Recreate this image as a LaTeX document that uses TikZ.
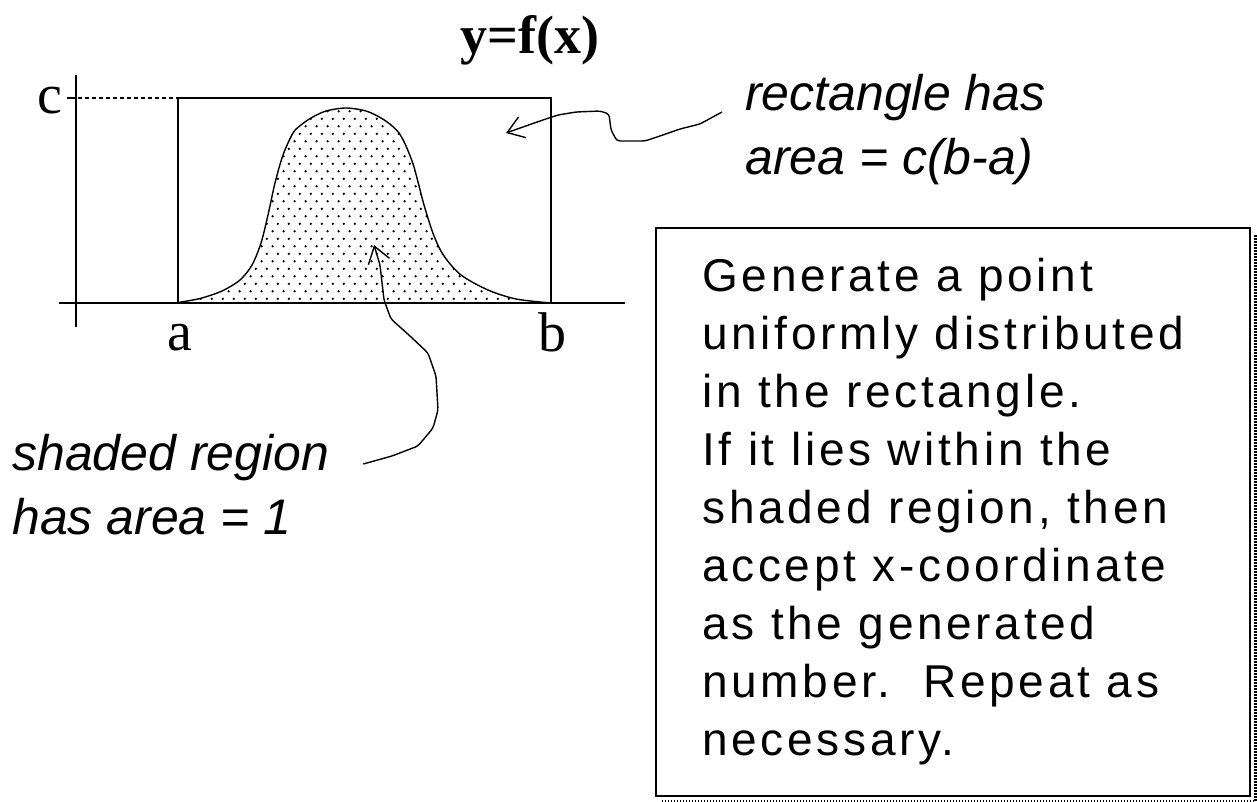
\documentclass[tikz,border=0pt]{standalone}
\usepackage{fontspec}
\setmainfont{Liberation Serif}
\newfontfamily\notefont{Liberation Sans}
\newfontfamily\panelfont{Liberation Sans}[LetterSpace=8]
\usetikzlibrary{arrows.meta,patterns,positioning}
\pgfdeclarepatternformonly{sparsedots}{\pgfqpoint{0pt}{0pt}}{\pgfqpoint{10.7pt}{15.4pt}}{\pgfqpoint{10.7pt}{15.4pt}}{%
  \pgfpathcircle{\pgfqpoint{2.675pt}{3.85pt}}{1.35pt}%
  \pgfpathcircle{\pgfqpoint{8.025pt}{11.55pt}}{1.35pt}%
  \pgfusepath{fill}}

\begin{document}
\begin{tikzpicture}[x=1pt,y=-1pt,
    axisline/.style={line width=1.6pt},
    lbl/.style={font=\fontsize{56}{56}\selectfont,inner sep=0pt,anchor=base},
    note/.style={font=\notefont\itshape\fontsize{50}{64}\selectfont,align=left,inner sep=0pt,anchor=north west},
    wiggle/.style={line width=1.4pt,rounded corners=3pt,-{Straight Barb[length=16pt,width=22pt]}},
    panel/.style={draw,line width=1.6pt,minimum width=594pt,minimum height=568pt,inner sep=0pt},
    paneltext/.style={font=\panelfont\fontsize{46}{58}\selectfont,align=left,inner sep=0pt,anchor=north west},
    shadowline/.style={line width=3pt,dash pattern=on 1.5pt off 1.5pt}
  ]
  \useasboundingbox (0,0) rectangle (1257,802);
  \fill[white] (0,0) rectangle (1257,802);

  \draw[line width=1.4pt,pattern=sparsedots] plot[smooth] coordinates {
    (178,302.5) (200,298.5) (222,291) (240,280) (252,265) (261,243) (268,215)
    (275,183) (283,155) (293,133) (301,125) (311,118) (326,111) (346,108)
    (366,111) (381,118) (391,125) (399,133) (406,146) (414,167) (424,205)
    (434,236) (444,256) (461,275) (488,290) (516,299) (551,303)};
  \draw[axisline] (178,303) rectangle (551,98);
  \draw[axisline] (59,303) -- (625,303);
  \draw[axisline] (76,75) -- (76,327);
  \draw[axisline] (67,98) -- (76,98);
  \draw[line width=1.4pt,dash pattern=on 4pt off 3pt] (78,98) -- (178,98);

  \node[lbl] (clabel) at (50,114) {c};
  \node[lbl] (alabel) at (180,350) {a};
  \node[lbl] (blabel) at (552,351) {b};
  \node[lbl,font=\bfseries\fontsize{54}{54}\selectfont] (curvename) at (530,54) {y=f(x)};

  \node[note] (rectnote) at (745,74) {rectangle has\\area = c(b-a)};
  \node[note] (shadenote) at (12,434) {shaded region\\has area = 1};
  \coordinate (recttip) at (506,133);
  \coordinate (shadetip) at (374,245);

  \draw[wiggle] ([shift={(-23,38)}]rectnote.north west) -- (700,124) -- (680,129)
    -- (660,136) -- (645,141) -- (617,141) -- (611,130) -- (609,114) -- (600,111)
    -- (576,112) -- (558,115) -- (540,121) -- (recttip);
  \draw[wiggle] ([shift={(34,30)}]shadenote.north east) -- (392,456) -- (418,446)
    -- (433,428) -- (438,410) -- (436,376) -- (428,353) -- (410,336) -- (391,319)
    -- (384,300) -- (380,265) -- (shadetip);

  \node[panel] (panel) at (953,512) {};
  \draw[shadowline] ([shift={(4.5,8)}]panel.north east) |- ([shift={(6,4.5)}]panel.south west);
  \node[paneltext] (steps) at ([shift={(47,31)}]panel.north west) {Generate a point\\
    uniformly distributed\\ in the rectangle.\\ If it lies within the\\
    shaded region, then\\ accept x-coordinate\\ as the generated\\
    number.\ \ Repeat as\\ necessary.};
\end{tikzpicture}
\end{document}
